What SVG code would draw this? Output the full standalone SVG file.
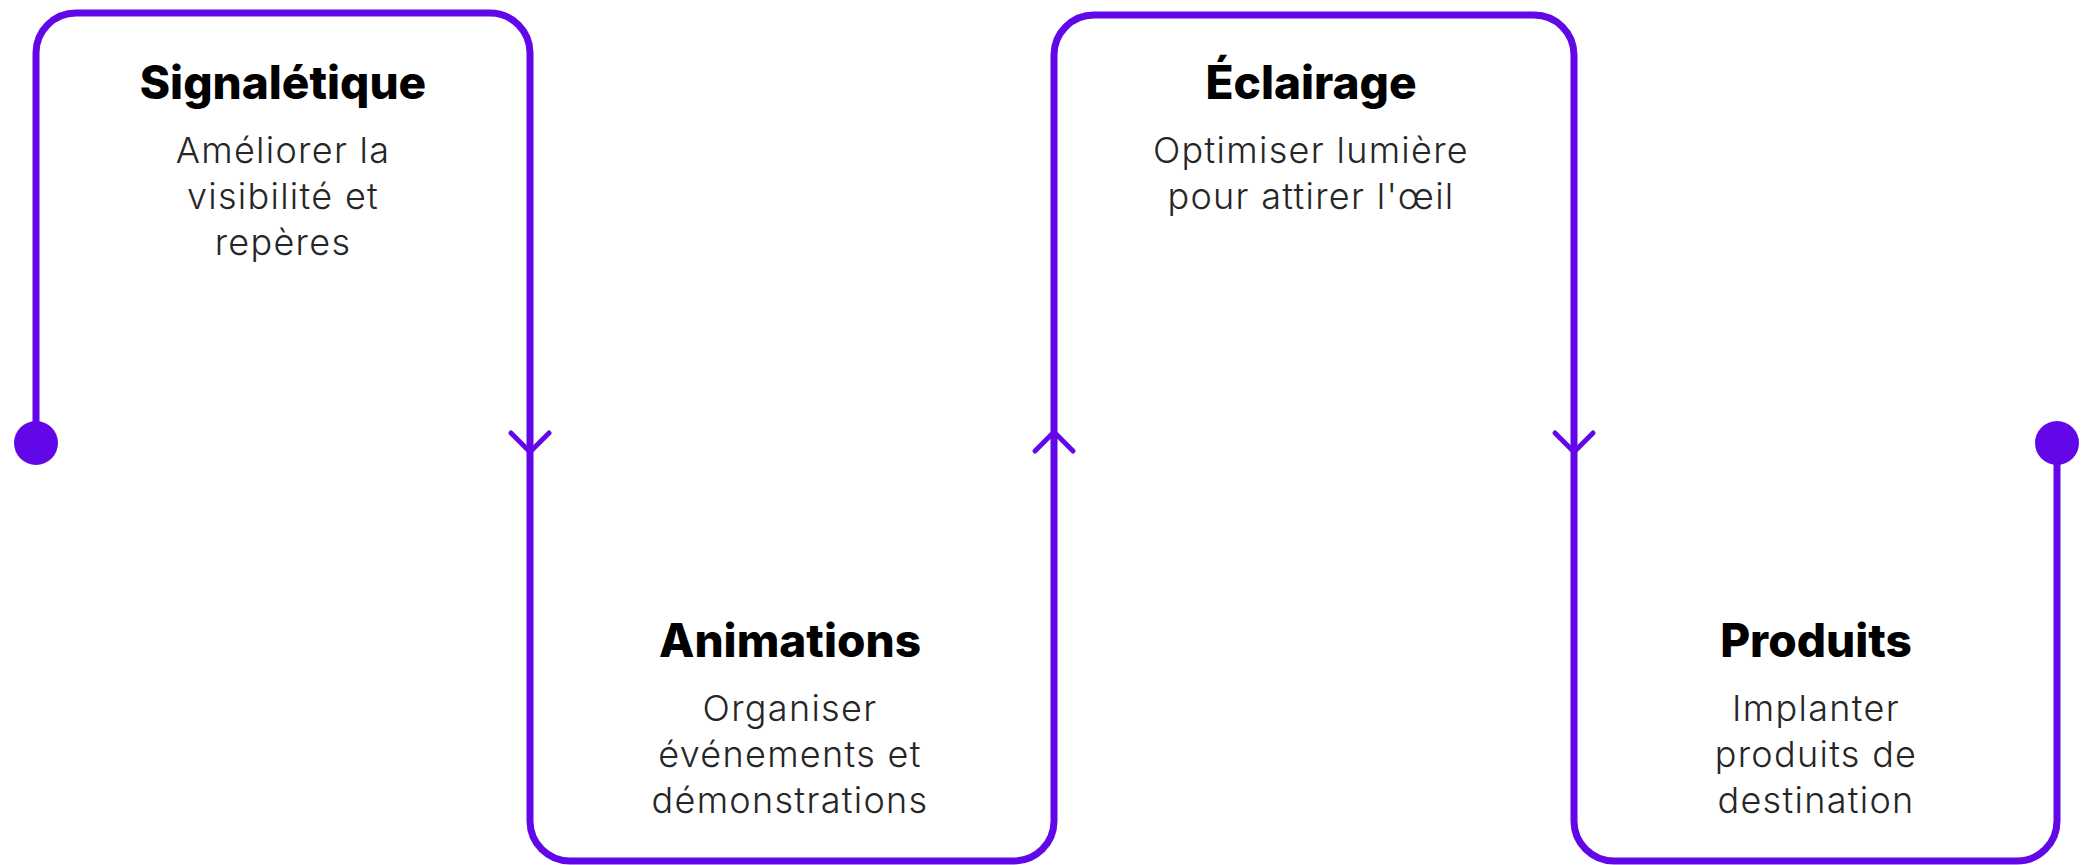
<svg xmlns="http://www.w3.org/2000/svg" width="2084" height="865" viewBox="0 0 2084 865">
  <style>
    .line { fill: none; stroke: #6208E8; stroke-width: 7; stroke-linecap: round; stroke-linejoin: round; }
    .arrow { fill: none; stroke: #6208E8; stroke-width: 5; stroke-linecap: round; stroke-linejoin: round; }
    .dot { fill: #6208E8; }
    .title { font-family: Inter, "Liberation Sans", sans-serif; font-weight: 800; font-size: 46px; letter-spacing: 0px; fill: #000; text-anchor: middle; }
    .body { font-family: Inter, "Liberation Sans", sans-serif; font-weight: 350; font-size: 36px; letter-spacing: 1.3px; fill: #262626; text-anchor: middle; }
  </style>
  <rect width="2084" height="865" fill="#ffffff"/>
  <g id="connectors">
    <path class="line" d="M36,443 V53 A40,40 0 0 1 76,13 H490 A40,40 0 0 1 530,53 V821 A40,40 0 0 0 570,861 H1014 A40,40 0 0 0 1054,821 V55 A40,40 0 0 1 1094,15 H1534 A40,40 0 0 1 1574,55 V821 A40,40 0 0 0 1614,861 H2017 A40,40 0 0 0 2057,821 V443"/>
    <circle class="dot" cx="36" cy="443" r="22"/>
    <circle class="dot" cx="2057" cy="443" r="22"/>
    <polyline class="arrow" points="511,433 530,452 549,433"/>
    <polyline class="arrow" points="1035,451 1054,432 1073,451"/>
    <polyline class="arrow" points="1555,433 1574,452 1593,433"/>
  </g>
  <g id="node-signaletique">
    <text class="title" x="283" y="99">Signalétique</text>
    <text class="body" x="283" y="163">Améliorer la</text>
    <text class="body" x="283" y="209">visibilité et</text>
    <text class="body" x="283" y="255">repères</text>
  </g>
  <g id="node-animations">
    <text class="title" x="790" y="657">Animations</text>
    <text class="body" x="790" y="721">Organiser</text>
    <text class="body" x="790" y="767">événements et</text>
    <text class="body" x="790" y="813">démonstrations</text>
  </g>
  <g id="node-eclairage">
    <text class="title" x="1311" y="99">Éclairage</text>
    <text class="body" x="1311" y="163">Optimiser lumière</text>
    <text class="body" x="1311" y="209">pour attirer l'œil</text>
  </g>
  <g id="node-produits">
    <text class="title" x="1816" y="657">Produits</text>
    <text class="body" x="1816" y="721">Implanter</text>
    <text class="body" x="1816" y="767">produits de</text>
    <text class="body" x="1816" y="813">destination</text>
  </g>
</svg>
